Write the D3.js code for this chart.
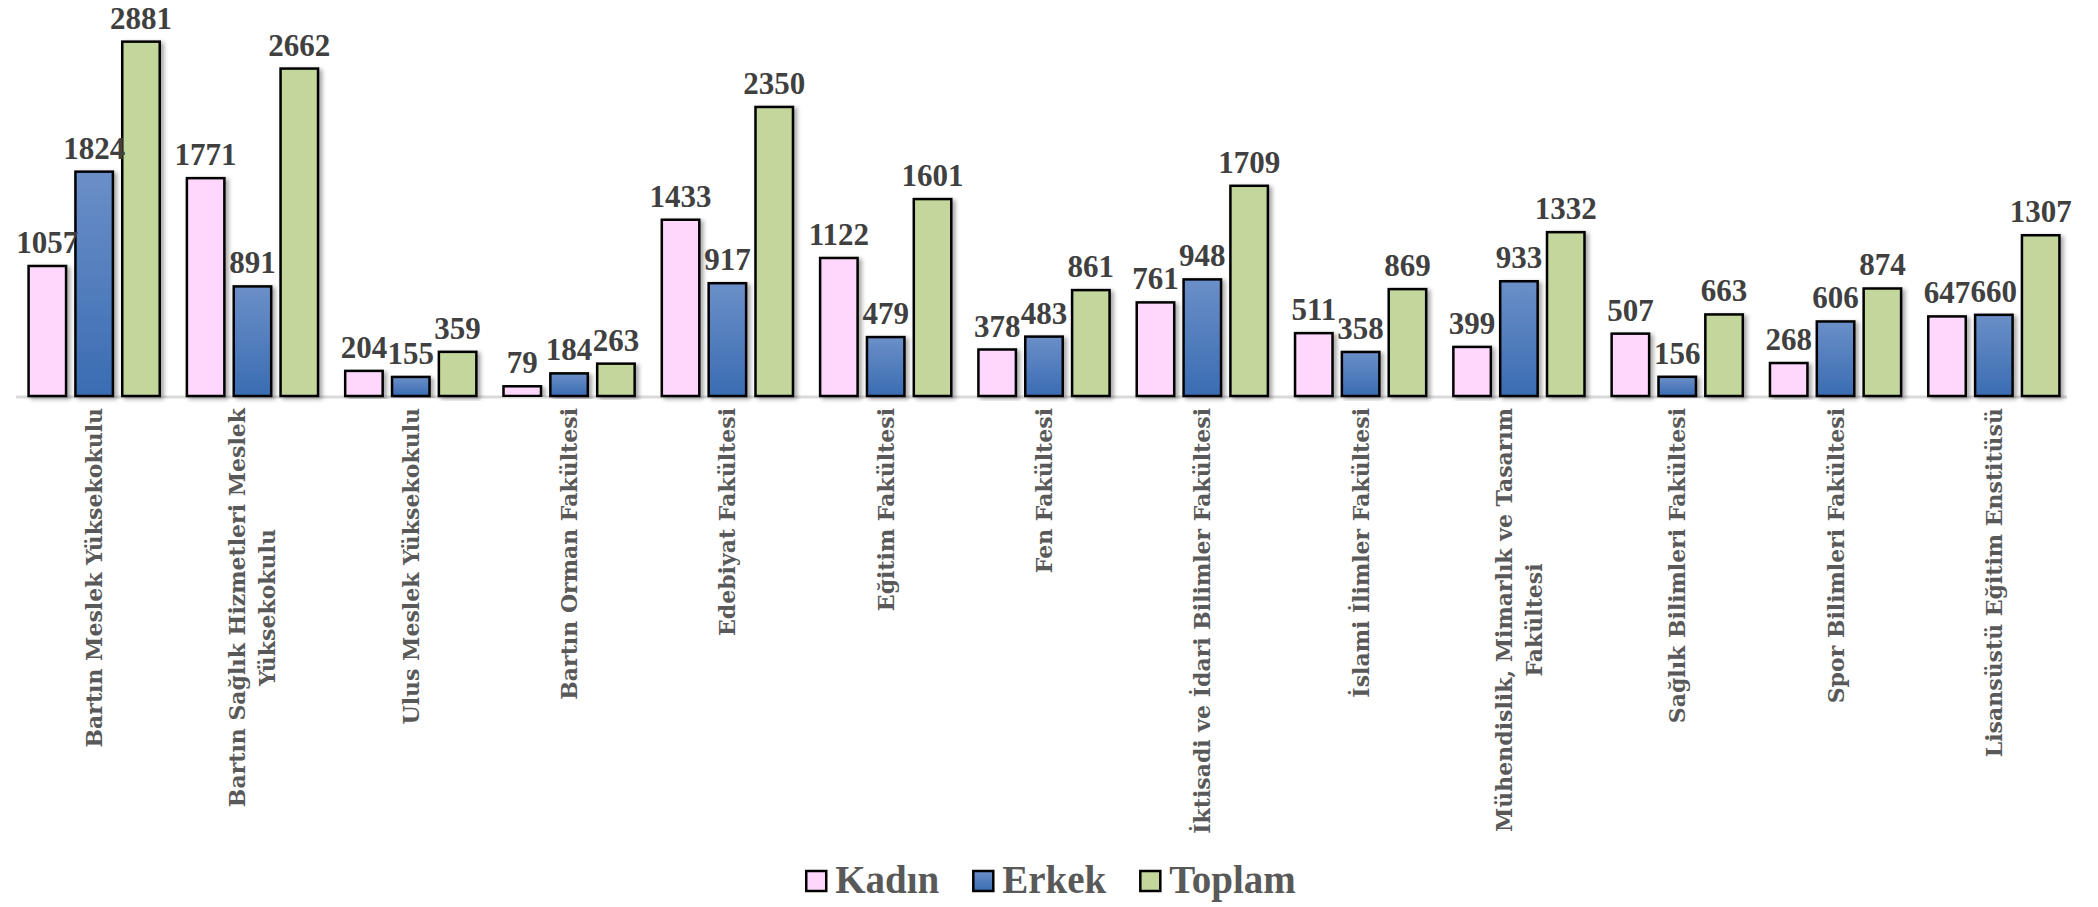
<!DOCTYPE html>
<html>
<head>
<meta charset="utf-8">
<script src="https://cdn.jsdelivr.net/npm/d3@7"></script>
<style>
  body { margin: 0; background: #fff; }
  svg { display: block; }
</style>
</head>
<body>
<div id="chart"></div>
<script>
// faculty names (line breaks where the original wraps)
const categories = [
  ["Bartın Meslek Yüksekokulu"],
  ["Bartın Sağlık Hizmetleri Meslek", "Yüksekokulu"],
  ["Ulus Meslek Yüksekokulu"],
  ["Bartın Orman Fakültesi"],
  ["Edebiyat Fakültesi"],
  ["Eğitim Fakültesi"],
  ["Fen Fakültesi"],
  ["İktisadi ve İdari Bilimler Fakültesi"],
  ["İslami İlimler Fakültesi"],
  ["Mühendislik, Mimarlık ve Tasarım", "Fakültesi"],
  ["Sağlık Bilimleri Fakültesi"],
  ["Spor Bilimleri Fakültesi"],
  ["Lisansüstü Eğitim Enstitüsü"]
];
const seriesNames = ["Kadın", "Erkek", "Toplam"];
const kadin  = [1057, 1771, 204, 79, 1433, 1122, 378, 761, 511, 399, 507, 268, 647];
const erkek  = [1824, 891, 155, 184, 917, 479, 483, 948, 358, 933, 156, 606, 660];
const toplam = [2881, 2662, 359, 263, 2350, 1601, 861, 1709, 869, 1332, 663, 874, 1307];
const seriesValues = [kadin, erkek, toplam];

const W = 2098, H = 907;
const margin = { top: 27, right: 25, bottom: 511, left: 15 };
const baseY = H - margin.bottom;

const svg = d3.select("#chart").append("svg")
  .attr("width", W).attr("height", H);

const defs = svg.append("defs");
const grad = defs.append("linearGradient")
  .attr("id", "blueGrad").attr("x1", 0).attr("y1", 0).attr("x2", 0).attr("y2", 1);
grad.append("stop").attr("offset", "0%").attr("stop-color", "#6b8fc8");
grad.append("stop").attr("offset", "100%").attr("stop-color", "#3a6cb2");

const shadow = defs.append("filter").attr("id", "shadow")
  .attr("x", "-20%").attr("y", "-5%").attr("width", "150%").attr("height", "115%");
shadow.append("feDropShadow")
  .attr("dx", 3).attr("dy", 2).attr("stdDeviation", 2)
  .attr("flood-color", "#000").attr("flood-opacity", 0.35);

const fills = ["#ffd7fd", "url(#blueGrad)", "#c3d69b"];

const keys = categories.map((c, i) => i);
const x0 = d3.scaleBand()
  .domain(keys)
  .range([margin.left, W - margin.right]);

const x1 = d3.scaleBand()
  .domain(d3.range(seriesNames.length))
  .range([0, x0.bandwidth()])
  .paddingInner(0.2)
  .paddingOuter(0.29);

const y = d3.scaleLinear()
  .domain([0, 3000])
  .range([baseY, margin.top]);

// baseline
svg.append("line")
  .attr("x1", x0.range()[0] + 1).attr("x2", x0.range()[1] - 6)
  .attr("y1", baseY + 1).attr("y2", baseY + 1)
  .attr("stroke", "#d9d9d9").attr("stroke-width", 3);

const rows = [];
keys.forEach(k => {
  seriesValues.forEach((vals, s) => rows.push({ k, s, v: vals[k] }));
});

const groups = svg.append("g");
groups.selectAll("rect.bar")
  .data(rows)
  .enter()
  .append("rect")
  .attr("class", "bar")
  .attr("x", d => x0(d.k) + x1(d.s))
  .attr("width", x1.bandwidth())
  .attr("y", d => y(d.v))
  .attr("height", d => baseY - y(d.v))
  .attr("fill", d => fills[d.s])
  .attr("stroke", "#000")
  .attr("stroke-width", 2.5)
  .attr("filter", "url(#shadow)");

// value labels
svg.append("g").selectAll("text")
  .data(rows)
  .enter()
  .append("text")
  .attr("x", d => x0(d.k) + x1(d.s) + x1.bandwidth() / 2)
  .attr("y", d => y(d.v) - 13)
  .attr("text-anchor", "middle")
  .style("font-family", "'Liberation Serif', 'Times New Roman', serif")
  .style("font-weight", "bold")
  .style("font-size", "31px")
  .style("fill", "#404040")
  .text(d => d.v);

// category labels, rotated
const labelTop = baseY + 12;
const lineH = 30;
const catG = svg.append("g").selectAll("g")
  .data(categories)
  .enter()
  .append("g");

catG.each(function (lines, i) {
  const g = d3.select(this);
  const cx = x0(i) + x0.bandwidth() / 2;
  const cap = 16;
  const t = g.append("text")
    .attr("text-anchor", "middle")
    .style("font-family", "'DejaVu Serif', serif")
    .style("font-weight", "bold")
    .style("font-size", "22px")
    .style("fill", "#595959");
  lines.forEach((ln, j) => {
    t.append("tspan").attr("x", 0).attr("y", j * lineH).text(ln);
  });
  let maxLen = 0;
  t.selectAll("tspan").each(function () {
    maxLen = Math.max(maxLen, this.getComputedTextLength());
  });
  t.selectAll("tspan").attr("x", -maxLen / 2);
  const shift = cap / 2 - (lines.length - 1) * lineH / 2;
  g.attr("transform", `translate(${cx + shift}, ${labelTop}) rotate(-90)`);
});

// legend
const legend = svg.append("g");
const legendY = 891;
let lx = 0;
seriesNames.forEach((name, s) => {
  const it = legend.append("g");
  it.append("rect")
    .attr("x", lx).attr("y", legendY - 20)
    .attr("width", 20).attr("height", 20)
    .attr("fill", fills[s])
    .attr("stroke", "#000").attr("stroke-width", 2.5);
  const tx = it.append("text")
    .attr("x", lx + 29).attr("y", legendY + 2)
    .style("font-family", "'Liberation Serif', 'Times New Roman', serif")
    .style("font-weight", "bold")
    .style("font-size", "39px")
    .style("fill", "#595959")
    .text(name);
  lx += 29 + tx.node().getComputedTextLength() + 34;
});
const legendW = lx - 34;
legend.attr("transform", `translate(${1051 - legendW / 2}, 0)`);
</script>
</body>
</html>
